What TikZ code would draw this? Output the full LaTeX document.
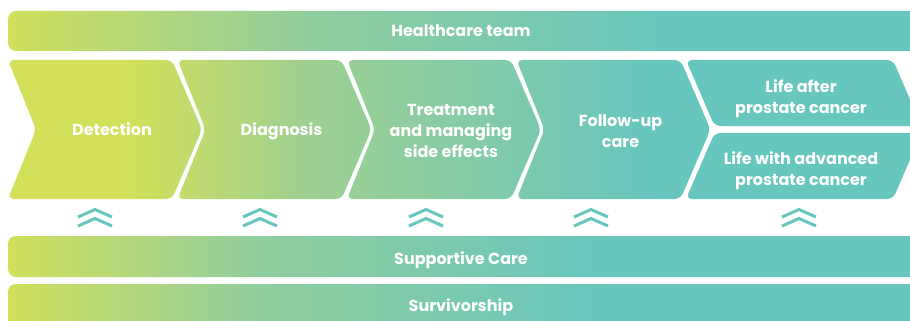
\documentclass[tikz,border=0pt]{standalone}
\usepackage{fontspec}
\setsansfont{Poppins}
\usetikzlibrary{positioning}
\definecolor{vertjaune}{HTML}{D2E05A}
\definecolor{vertmilieu}{HTML}{A0D090}
\definecolor{vertbarre}{HTML}{93CE9C}
\definecolor{turquoise}{HTML}{67C6BE}

\begin{document}
\begin{tikzpicture}[x=1pt,y=-1pt]
% définition des paramètres
\tikzstyle texteblanc=[text=white,font=\sffamily\bfseries\fontsize{16}{21}\selectfont,align=center,inner sep=0pt]
\tikzstyle doubleflechemichael=[color=turquoise,line width=3pt]
\newcommand{\chevlarg}{164}  % largeur du haut du chevron
\newcommand{\chevpente}{30}  % décalage de la pointe
\newcommand{\chevhaut}{60}   % ordonnée du haut
\newcommand{\chevbas}{199}   % ordonnée du bas
\newcommand{\chevmil}{129.5} % ordonnée de la pointe
% le cadre
\useasboundingbox (0,0) rectangle (910,321);
\clip (0,0) rectangle (910,321);
% la barre du haut
\begin{scope}
\clip[rounded corners=8] (8,11) rectangle (940,51);
\shade[left color=vertjaune,right color=vertbarre] (0,0) rectangle (300,60);
\shade[left color=vertbarre,right color=turquoise] (300,0) rectangle (680,60);
\fill[turquoise] (680,0) rectangle (910,60);
\end{scope}
% les barres du bas
\begin{scope}
\clip[rounded corners=8] (8,236) rectangle (940,277) (8,284) rectangle (940,340);
\shade[left color=vertjaune,right color=vertbarre] (5,230) rectangle (250,321);
\shade[left color=vertbarre,right color=turquoise] (250,230) rectangle (610,321);
\fill[turquoise] (610,230) rectangle (910,321);
\end{scope}
% les chevrons
\begin{scope}
\clip[rounded corners=6]
  \foreach \x in {8,177.5,347,516.5} {
    (\x+\chevpente-2,\chevmil) -- (\x,\chevhaut) -- (\x+\chevlarg,\chevhaut) -- (\x+\chevlarg+\chevpente,\chevmil) -- (\x+\chevlarg,\chevbas) -- (\x,\chevbas) -- cycle
  }
  (686,\chevhaut) -- (893,\chevhaut) -- (921.5,126) -- (714.5,126) -- cycle
  (714.5,133) -- (921.5,133) -- (893,\chevbas) -- (686,\chevbas) -- cycle;
\fill[vertjaune] (0,55) rectangle (130,205);
\shade[left color=vertjaune,right color=vertmilieu] (130,55) rectangle (300,205);
\shade[left color=vertmilieu,right color=turquoise] (300,55) rectangle (650,205);
\fill[turquoise] (650,55) rectangle (910,205);
\end{scope}
% les textes
\node[texteblanc] (equipe) at (461,31) {Healthcare team};
\foreach \x/\dy/\nom/\txt in {8/0/detection/Detection, 177.5/2/diagnostic/Diagnosis, 347/1/traitement/{Treatment\\and managing\\side effects}, 516.5/2/suivi/{Follow-up\\care}}
  \node[texteblanc] (\nom) at (\x+104,\chevmil+\dy) {\txt};
\node[texteblanc] (apres) at (801,99) {Life after\\prostate cancer};
\node[texteblanc] (avance) at (801,171) {Life with advanced\\prostate cancer};
\node[texteblanc] (soutien) at (461,260) {Supportive Care};
\node[texteblanc] (survie) at (461,307) {Survivorship};
% les doubles flèches
\foreach \cx in {95,260,426,591,799} {
  \draw[doubleflechemichael] (\cx-17,217) -- (\cx,209.5) -- (\cx+17,217);
  \draw[doubleflechemichael] (\cx-17,226) -- (\cx,218.5) -- (\cx+17,226);
}
\end{tikzpicture}
\end{document}
